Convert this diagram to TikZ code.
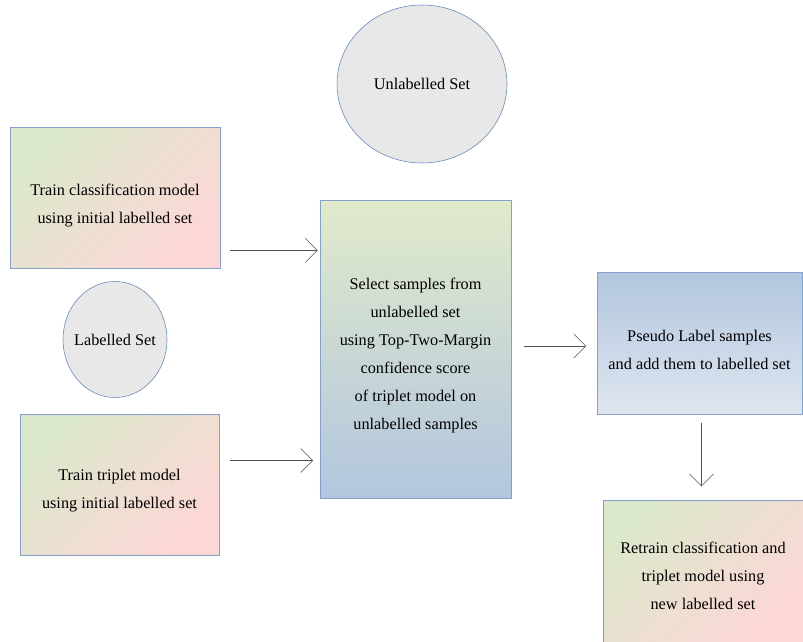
\documentclass[tikz,border=0pt]{standalone}
\usepackage{fontspec}
\setmainfont{Liberation Serif}
\usetikzlibrary{arrows.meta,positioning,shapes.geometric}
\definecolor{edgeblue}{HTML}{84A0CC}
\definecolor{ringblue}{HTML}{5A82BC}
\definecolor{leafgreen}{HTML}{DBE8CB}
\definecolor{blush}{HTML}{FDD7D6}
\definecolor{paleyel}{HTML}{E1EACA}
\definecolor{steel}{HTML}{B2C6DF}
\definecolor{mist}{HTML}{DFE6F0}
\definecolor{paper}{HTML}{E8E8E8}
\definecolor{lead}{HTML}{505050}

\begin{document}
\begin{tikzpicture}[x=0.75pt,y=-0.75pt,>={Straight Barb[length=9pt,width=18pt]},
                    font=\fontsize{12.2}{21}\selectfont]
  \tikzstyle{pinkbox}=[rectangle,draw=edgeblue,thin,inner sep=0pt,align=center,
                       top color=leafgreen,bottom color=blush,shading angle=45]
  \tikzstyle{bluebox}=[rectangle,draw=edgeblue,thin,inner sep=0pt,align=center,
                       top color=paleyel,bottom color=steel]
  \tikzstyle{skybox}=[rectangle,draw=edgeblue,thin,inner sep=0pt,align=center,
                      top color=steel,bottom color=mist]
  \tikzstyle{dataset}=[ellipse,draw=ringblue,thin,fill=paper,inner sep=0pt]
  \tikzstyle{flow}=[->,draw=lead,thin]

  \useasboundingbox (0,0) rectangle (803,642);

  \node[dataset,minimum width=127.5pt,minimum height=118.5pt] (uset) at (422,84) {Unlabelled Set};
  \node[pinkbox,minimum width=157.5pt,minimum height=105.75pt,text height=41pt] (clf) at (115,197.5)
       {Train classification model\\using initial labelled set};
  \node[dataset,inner xsep=-7pt,minimum width=78pt,minimum height=87pt] (lset) at (115,339.5) {Labelled Set};
  \node[pinkbox,minimum width=149.25pt,minimum height=105.75pt,text height=38pt] (trp) at (119.5,484.5)
       {Train triplet model\\using initial labelled set};
  \node[bluebox,minimum width=143.25pt,minimum height=223.5pt,text height=124pt] (sel) at (415.5,349)
       {Select samples from\\unlabelled set\\using Top-Two-Margin\\confidence score\\
        of triplet model on\\unlabelled samples};
  \node[skybox,minimum width=153.75pt,minimum height=106.5pt,text height=39.5pt] (pl) at (699.5,343)
       {Pseudo Label samples\\and add them to labelled set};
  \node[pinkbox,minimum width=150pt,minimum height=106.5pt,text height=58pt] (rt) at (703,571)
       {Retrain classification and\\triplet model using\\new labelled set};

  \draw[flow,shorten >=1.5pt] ([shift={(10,-18)}]clf.south east) coordinate (p1) -- (p1 -| sel.west);
  \draw[flow,shorten >=5pt] ([shift={(11,-24)}]trp.east) coordinate (p2) -- (p2 -| sel.west);
  \draw[flow,shorten >=8pt] ([shift={(13,-3)}]sel.east) coordinate (p3) -- (p3 -| pl.west);
  \draw[flow,shorten >=10pt] ([shift={(2,9)}]pl.south) coordinate (p4) -- (p4 |- rt.north);
\end{tikzpicture}
\end{document}
